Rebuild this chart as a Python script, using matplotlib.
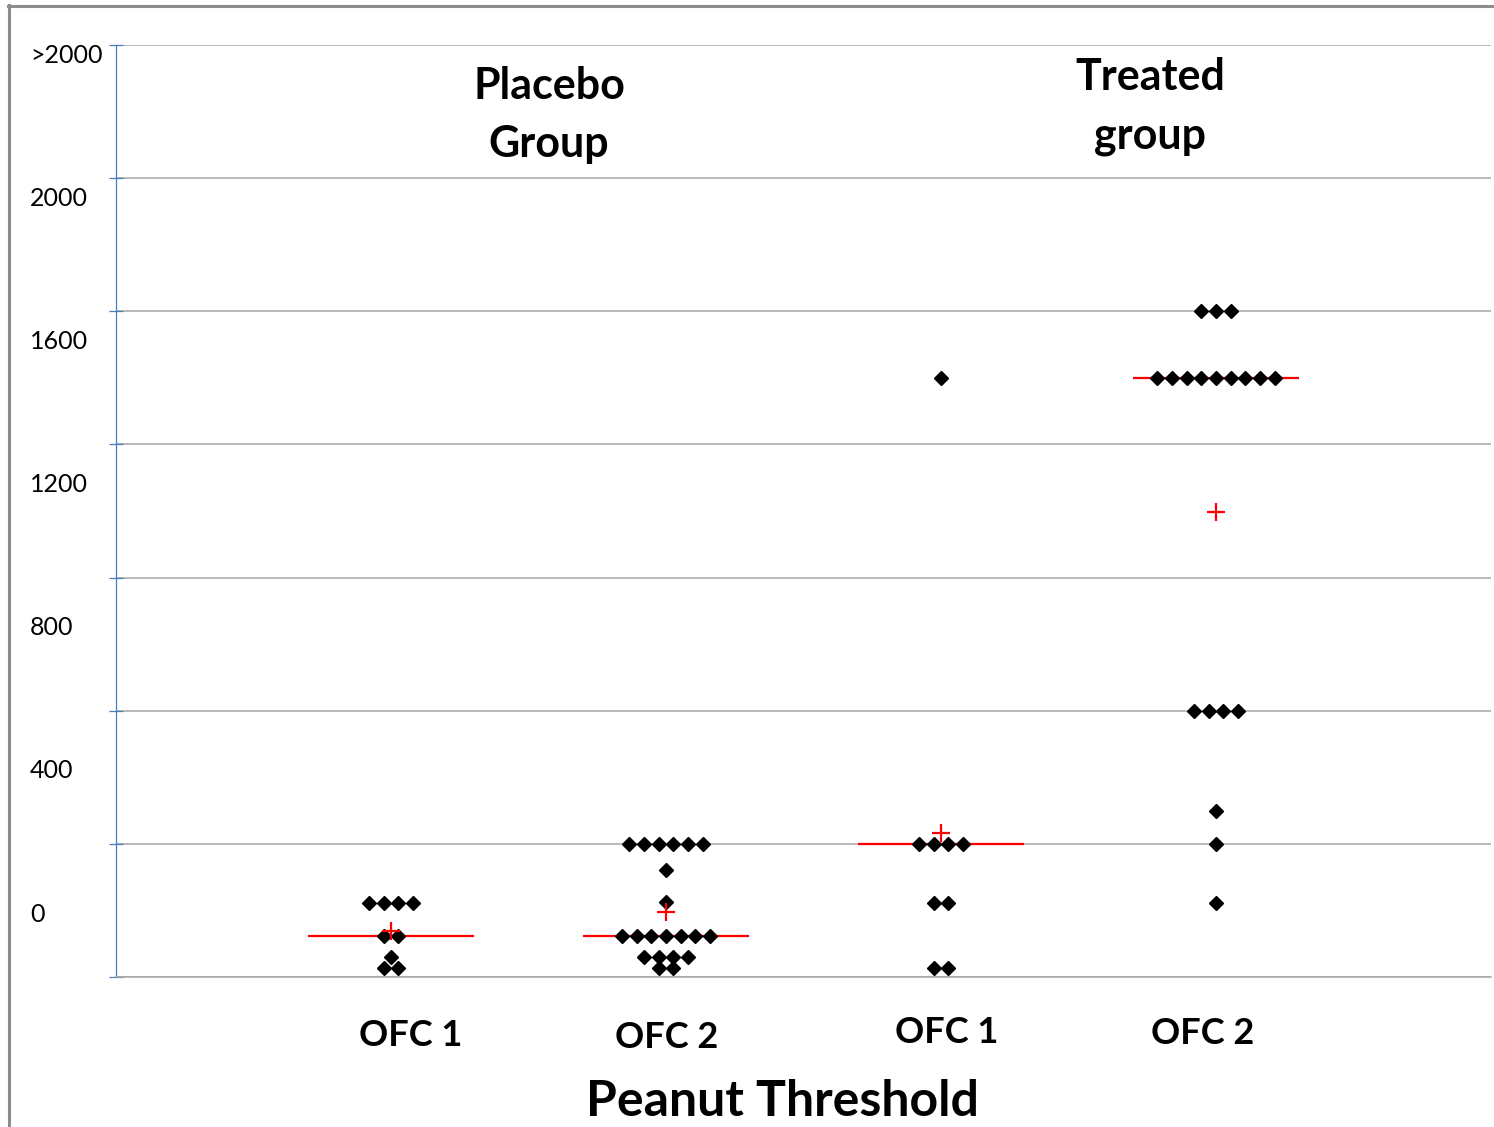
import numpy as np
import matplotlib
matplotlib.use("Agg")
import matplotlib.pyplot as plt
from matplotlib.lines import Line2D

plt.rcParams["font.family"] = ["Lato", "DejaVu Sans"]

# Peanut threshold per challenge, in chart level units (one gridline per level)
placebo_ofc1 = [0.554] * 4 + [0.306] * 2 + [0.148] + [0.068] * 2
placebo_ofc2 = [1.0] * 6 + [0.807, 0.563] + [0.306] * 7 + [0.148] * 4 + [0.068] * 2
treated_ofc1 = [4.5] + [1.0] * 4 + [0.554] * 2 + [0.068] * 2
treated_ofc2 = [5.0] * 3 + [4.5] * 9 + [2.0] * 4 + [1.245, 1.0, 0.554]

series = [placebo_ofc1, placebo_ofc2, treated_ofc1, treated_ofc2]
x_labels = ["OFC 1", "OFC 2", "OFC 1", "OFC 2"]
group_titles = ["Placebo\nGroup", "Treated\ngroup"]
y_labels = ["0", "400", "800", "1200", "1600", "2000", ">2000"]

W, H = 1494, 1127
AXIS_BLUE = "#4a7ebb"
GRID_GRAY = "#a6a6a6"


def fx(x):
    return x / W


def fy(y):
    return 1 - y / H


def row_positions(values, center, step=0.0535):
    """Spread equal values side by side, centred on the category."""
    vals = np.asarray(values)
    xs = np.empty(len(vals))
    for v in np.unique(vals):
        idx = np.where(vals == v)[0]
        xs[idx] = center + (np.arange(len(idx)) - (len(idx) - 1) / 2) * step
    return xs


fig = plt.figure(figsize=(W / 100, H / 100), dpi=100)
ax = fig.add_axes([fx(116), fy(977), fx(1491 - 116), (977 - 45) / H])
ax.set_xlim(0, 5)
ax.set_ylim(0, 7)

for i, vals in enumerate(series):
    cx = i + 1
    ax.plot(row_positions(vals, cx), vals, "D", color="black", ms=7.5,
            ls="none", zorder=3)
    ax.hlines(np.median(vals), cx - 0.303, cx + 0.303, color="red",
              lw=1.6, zorder=2)
    ax.plot(cx, np.mean(vals), "+", color="red", ms=13, mew=1.6, zorder=4)

# gridlines on the levels, value labels on their own spacing
ax.set_yticks(np.arange(8))
ax.set_yticklabels([])
ax.tick_params(axis="y", which="major", direction="inout", length=9.5,
               color=AXIS_BLUE, width=0.9)
ax.set_yticks(np.linspace(0.488, 6.937, len(y_labels)), minor=True)
ax.set_yticklabels(y_labels, minor=True, fontsize=18)
ax.tick_params(axis="y", which="minor", length=0, pad=62)
for t in ax.get_yticklabels(minor=True):
    t.set_horizontalalignment("left")
ax.set_xticks([])

ax.grid(axis="y", which="major", color=GRID_GRAY, lw=1.1)
ax.set_axisbelow(True)
ax.spines["top"].set_visible(False)
ax.spines["right"].set_visible(False)
ax.spines["left"].set_color(AXIS_BLUE)
ax.spines["left"].set_linewidth(0.9)
ax.spines["bottom"].set_color(GRID_GRAY)
ax.spines["bottom"].set_linewidth(1.1)

# group headings (baseline refers to the second line)
fig.text(fx(549), fy(157), group_titles[0], ha="center", va="baseline",
         fontsize=31, fontweight="bold", linespacing=1.55)
fig.text(fx(1150), fy(148), group_titles[1], ha="center", va="baseline",
         fontsize=31, fontweight="bold", linespacing=1.55)

# challenge labels under each column
for lbl, x, y in zip(x_labels, [411, 667, 947, 1203], [1046, 1048, 1043, 1044]):
    fig.text(fx(x), fy(y), lbl, ha="center", va="baseline", fontsize=26,
             fontweight="bold")

fig.text(fx(782), fy(1116), "Peanut Threshold", ha="center", va="baseline",
         fontsize=36, fontweight="bold")

# slide frame
fig.add_artist(Line2D([fx(8), 1], [fy(6), fy(6)], color="#8c8c8c", lw=2.2))
fig.add_artist(Line2D([fx(9), fx(9)], [fy(5), 0], color="#8c8c8c", lw=2.2))

fig.savefig("out.png", dpi=100)
plt.close(fig)
